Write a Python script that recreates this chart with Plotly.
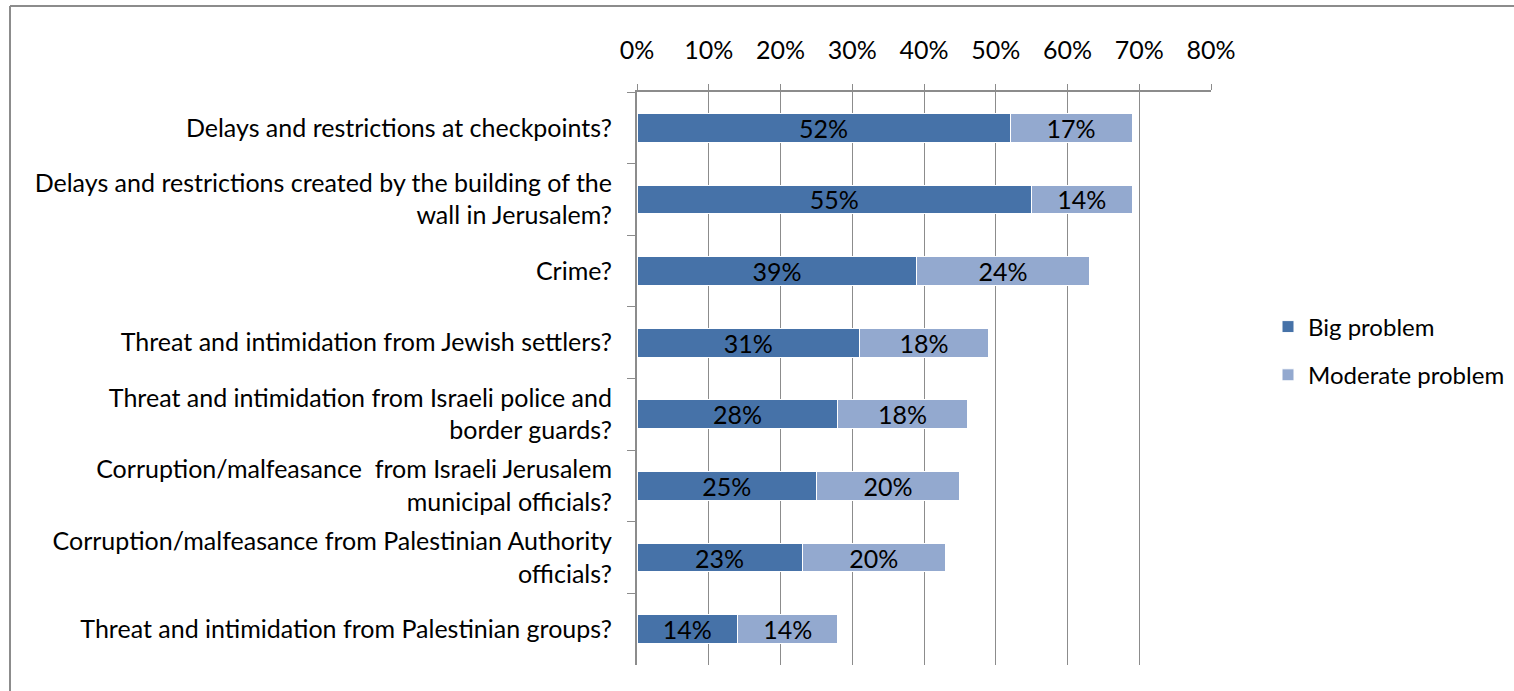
import plotly.graph_objects as go

categories = [
    "Delays and restrictions at checkpoints?",
    "Delays and restrictions created by the building of the<br>wall in Jerusalem?",
    "Crime?",
    "Threat and intimidation from Jewish settlers?",
    "Threat and intimidation from Israeli police and<br>border guards?",
    "Corruption/malfeasance  from Israeli Jerusalem<br>municipal officials?",
    "Corruption/malfeasance from Palestinian Authority<br>officials?",
    "Threat and intimidation from Palestinian groups?",
]
big_problem = [52, 55, 39, 31, 28, 25, 23, 14]
moderate_problem = [17, 14, 24, 18, 18, 20, 20, 14]
x_ticks = [0, 10, 20, 30, 40, 50, 60, 70, 80]

FONT = "Lato"
FS = 25
W, H = 1514, 691
L, R, T, B = 637, 303, 92, 26

fig = go.Figure()
fig.add_trace(go.Bar(
    y=categories, x=big_problem, orientation="h", name="Big problem",
    legendgroup="big",
    marker=dict(color="#4672a8", line=dict(color="white", width=1)),
    text=[f"{v}%" for v in big_problem], textposition="inside",
    insidetextanchor="middle", constraintext="none",
    textfont=dict(color="black", size=FS, family=FONT),
))
fig.add_trace(go.Bar(
    y=categories, x=moderate_problem, orientation="h", name="Moderate problem",
    legendgroup="moderate",
    marker=dict(color="#93a9cf", line=dict(color="white", width=1)),
    text=[f"{v}%" for v in moderate_problem], textposition="inside",
    insidetextanchor="middle", constraintext="none",
    textfont=dict(color="black", size=FS, family=FONT),
))

fig.update_layout(
    width=W, height=H,
    margin=dict(l=L, r=R, t=T, b=B, autoexpand=False),
    barmode="stack", bargap=0.6,
    plot_bgcolor="white", paper_bgcolor="white",
    font=dict(family=FONT, size=FS, color="black"),
    legend=dict(xref="container", yref="container",
                x=1268 / W, y=1 - 351 / H, xanchor="left", yanchor="middle",
                font=dict(size=FS - 1, family=FONT), traceorder="grouped",
                itemwidth=30, tracegroupgap=14),
    showlegend=True,
)
fig.update_xaxes(
    side="top", range=[0, 80], tickvals=x_ticks,
    ticktext=[f"{v}%" for v in x_ticks],
    showgrid=True, gridcolor="#8c8c8c", gridwidth=1.3,
    showline=True, linecolor="#8c8c8c", linewidth=2,
    ticks="outside", ticklen=6, tickcolor="#8c8c8c",
    ticklabelstandoff=15, zeroline=False,
)
fig.update_yaxes(
    autorange="reversed", type="category",
    showline=True, linecolor="#8c8c8c", linewidth=2,
    ticks="outside", ticklen=8, tickcolor="#8c8c8c", tickson="boundaries",
    showgrid=False, ticklabelstandoff=18,
)
# outer chart frame (top and left edges)
px_to_paper_x = lambda px: (px - L) / (W - L - R)
px_to_paper_y = lambda py: (H - B - py) / (H - T - B)
fig.add_shape(type="line", xref="paper", yref="paper",
              x0=px_to_paper_x(10), x1=px_to_paper_x(1530),
              y0=px_to_paper_y(6), y1=px_to_paper_y(6),
              line=dict(color="#8c8c8c", width=2))
fig.add_shape(type="line", xref="paper", yref="paper",
              x0=px_to_paper_x(10), x1=px_to_paper_x(10),
              y0=px_to_paper_y(6), y1=px_to_paper_y(700),
              line=dict(color="#8c8c8c", width=2))

fig.write_html("out.html", config={"displayModeBar": False},
               post_script="document.body.style.margin='0';document.body.style.overflow='hidden';")
